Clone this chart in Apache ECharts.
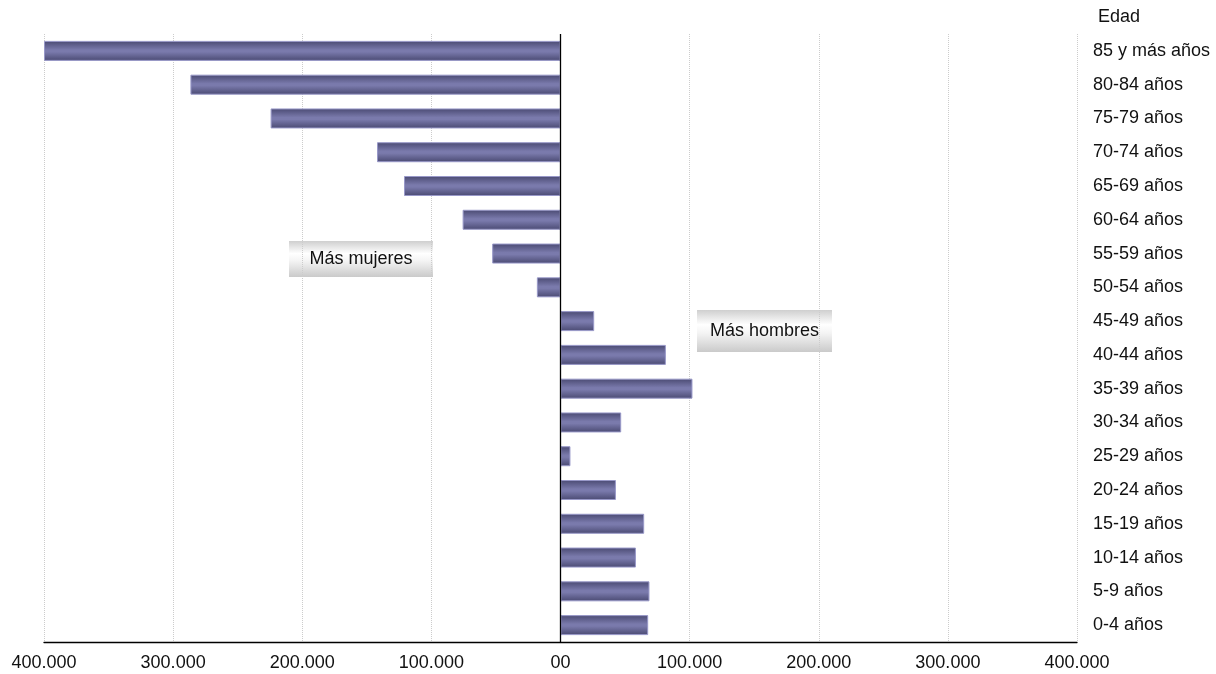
<!DOCTYPE html>
<html>
<head>
<meta charset="utf-8">
<script src="https://cdn.jsdelivr.net/npm/echarts@6/dist/echarts.min.js"></script>
<style>
html,body{margin:0;padding:0;background:#fff;}
#chart{width:1216px;height:674px;}
</style>
</head>
<body>
<div id="chart"></div>
<script>
// Categories, top to bottom
const categories = ['85 y más años','80-84 años','75-79 años','70-74 años','65-69 años','60-64 años','55-59 años','50-54 años','45-49 años','40-44 años','35-39 años','30-34 años','25-29 años','20-24 años','15-19 años','10-14 años','5-9 años','0-4 años'];
// Difference hombres - mujeres
const values = [-400000,-286600,-224500,-142100,-121200,-75800,-52900,-18300,26100,81600,102200,47000,7700,42900,64800,58400,68900,67900];
const axisName = 'Edad';
const tickMin = -400000, tickMax = 400000, tickStep = 100000;
const noteLeft = 'Más mujeres';
const noteRight = 'Más hombres';

const FONT = '"Liberation Sans", Arial, sans-serif';
function fmt(v){
  if (v === 0) return '00';
  const s = String(Math.abs(v));
  return s.replace(/\B(?=(\d{3})+(?!\d))/g, '.');
}
const boxFill = {type:'linear',x:0,y:0,x2:0,y2:1,colorStops:[
  {offset:0,color:'#cfcfcf'},{offset:0.35,color:'#ffffff'},{offset:0.55,color:'#f4f4f4'},{offset:1,color:'#cacaca'}]};

const chart = echarts.init(document.getElementById('chart'), null, {renderer:'canvas'});
chart.setOption({
  animation:false,
  backgroundColor:'#ffffff',
  textStyle:{fontFamily:FONT},
  grid:{left:44,right:139,top:34,bottom:32,containLabel:false,outerBoundsMode:'none'},
  xAxis:{
    type:'value',min:tickMin,max:tickMax,interval:tickStep,
    axisLine:{show:true,onZero:false,lineStyle:{color:'#000',width:1.3}},
    axisTick:{show:false},
    axisLabel:{formatter:fmt,fontSize:18,color:'#111',margin:12,fontFamily:FONT},
    splitLine:{show:true,lineStyle:{type:'dotted',color:'#cccccc',width:1}}
  },
  yAxis:{
    type:'category',data:categories,inverse:true,position:'right',
    axisLine:{show:false},axisTick:{show:false},
    axisLabel:{align:'left',margin:16,fontSize:18,color:'#111',fontFamily:FONT},
    splitLine:{show:false}
  },
  series:[{
    type:'bar',data:values,barWidth:20,
    itemStyle:{
      color:{type:'linear',x:0,y:0,x2:0,y2:1,colorStops:[
        {offset:0,color:'#4a4a72'},{offset:0.45,color:'#7a7aac'},{offset:0.55,color:'#7a7aac'},{offset:1,color:'#4a4a72'}]},
      borderColor:'#9898c8',borderWidth:1
    },
    markLine:{
      silent:true,symbol:['none','none'],label:{show:false},
      lineStyle:{color:'#000',type:'solid',width:1.3},
      data:[{xAxis:0}]
    }
  }],
  graphic:[
    {type:'text',left:1098,top:8,style:{text:axisName,font:'18px '+FONT,fill:'#111'}},
    {type:'group',left:289,top:241,children:[
      {type:'rect',shape:{x:0,y:0,width:144,height:36},style:{fill:boxFill}},
      {type:'text',x:72,y:18,style:{text:noteLeft,font:'18px '+FONT,fill:'#111',align:'center',verticalAlign:'middle'}}
    ]},
    {type:'group',left:697,top:310,children:[
      {type:'rect',shape:{x:0,y:0,width:135,height:42},style:{fill:boxFill}},
      {type:'text',x:67.5,y:21,style:{text:noteRight,font:'18px '+FONT,fill:'#111',align:'center',verticalAlign:'middle'}}
    ]}
  ]
});
</script>
</body>
</html>
